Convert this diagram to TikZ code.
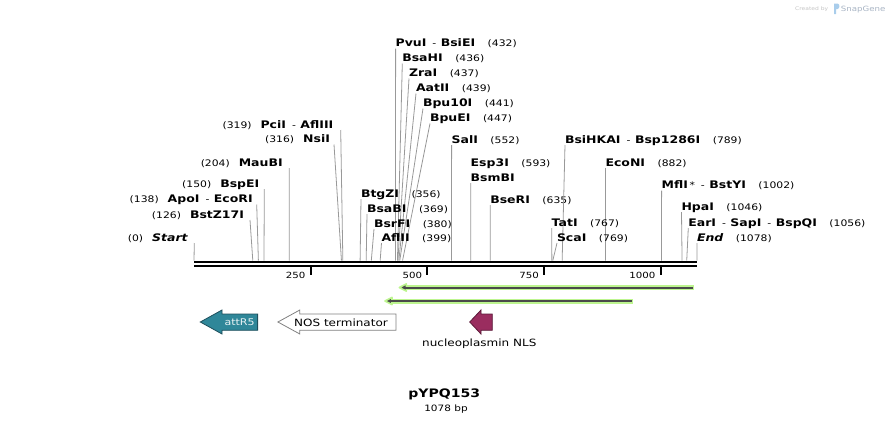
\documentclass[tikz,border=0pt]{standalone}
\usepackage{fontspec}
\setmainfont{DejaVu Sans}[FakeStretch=1.2]
\definecolor{sitegray}{HTML}{999999}
\definecolor{tealf}{HTML}{2F8799}
\definecolor{teald}{HTML}{1E4F5C}
\definecolor{nlsf}{HTML}{9A2D5F}
\definecolor{nlsd}{HTML}{5A1A38}
\definecolor{primg}{HTML}{BDF58F}
\definecolor{primd}{HTML}{4A4A4A}
\definecolor{wmgray}{HTML}{C4C4C4}
\definecolor{wmblue}{HTML}{A8B4C4}
\definecolor{wmlogo}{HTML}{A9CDEB}
\newcommand\enz[1]{{\fontsize{10.4}{12}\selectfont\bfseries #1}}
\newcommand\enzi[1]{{\fontsize{10.4}{12}\selectfont\bfseries\itshape #1}}
\newcommand\bpn[1]{{\fontsize{9}{11}\selectfont #1}}
\newcommand\hsep{\hspace{6pt}{\fontsize{9}{11}\selectfont -}\hspace{4.5pt}}
\newcommand\rgap{\hspace{12.5pt}}
\newcommand\lgap{\hspace{9pt}}
% right-side label: id, x, baseline, bp, text
\newcommand\rsite[5]{%
  \node[rlab] (r#1) at (#2,#3) {#5};
  \coordinate (rs#1) at ({194+0.4666*#4},260.5);
  \draw[site] (r#1.base west) ++(0,2) -- (rs#1);}
% left-side label: id, text right x, baseline, line x, bp, text
\newcommand\lsite[6]{%
  \node[llab] (l#1) at (#2,#3) {#6};
  \coordinate (lt#1) at (#4,{#3+2});
  \coordinate (ls#1) at ({194+0.4666*#5},260.5);
  \draw[site] (lt#1) -- (ls#1);}
\begin{document}
\begin{tikzpicture}[x={(1pt,0)},y={(0,-1pt)},
  rlab/.style={anchor=base west,inner sep=0,outer sep=0},
  llab/.style={anchor=base east,inner sep=0,outer sep=0},
  site/.style={draw=sitegray,line width=0.8pt},
  bb/.style={line width=2.4pt},
  tick/.style={line width=1.8pt},
  ticklab/.style={anchor=base east,inner sep=0,font=\fontsize{8.5}{10}\selectfont},
  prg/.style={draw=primg,line width=5pt},
  prd/.style={draw=primd,line width=2pt},
  feat/.style={line width=0.8pt,line join=miter}]
\useasboundingbox (0,0) rectangle (892,424);
% watermark
\node[anchor=base west,inner sep=0,text=wmgray,font=\fontsize{5}{6}\selectfont] (wm1) at (795,10.5) {Created by};
\fill[wmlogo] (834,3.5) -- (837.5,3.5) .. controls (840,3.5) and (840,9) .. (837.5,9) -- (836,9) -- (836,14) -- (834,14) -- cycle;
\node[anchor=base west,inner sep=0,text=wmblue,font=\fontsize{7.2}{8}\selectfont] (wm2) at (840.7,11) {SnapGene};
% backbone
\draw[bb] (194,261.7) -- (697,261.7);
\draw[bb,line width=2.2pt] (194,266) -- (697,266);
% ticks
\foreach \v in {250,500,750,1000}{
  \draw[tick] ({194+0.4666*\v},266) -- ({194+0.4666*\v},275);
  \node[ticklab] at ({194+0.4666*\v-5},278) {\v};
}
% right-side labels
\rsite{1}{395.6}{46.5}{432}{\enz{PvuI}\hsep\enz{BsiEI}\rgap\bpn{(432)}}
\rsite{2}{402.3}{61.5}{436}{\enz{BsaHI}\rgap\bpn{(436)}}
\rsite{3}{409}{76.5}{437}{\enz{ZraI}\rgap\bpn{(437)}}
\rsite{4}{416}{91.5}{439}{\enz{AatII}\rgap\bpn{(439)}}
\rsite{5}{423}{106.5}{441}{\enz{Bpu10I}\rgap\bpn{(441)}}
\rsite{6}{430}{121.5}{447}{\enz{BpuEI}\rgap\bpn{(447)}}
\rsite{7}{451.6}{143}{552}{\enz{SalI}\rgap\bpn{(552)}}
\node[rlab] (r8a) at (470.7,166) {\enz{Esp3I}\rgap\bpn{(593)}};
\rsite{8}{470.7}{181}{593}{\enz{BsmBI}}
\rsite{9}{490.3}{203}{635}{\enz{BseRI}\rgap\bpn{(635)}}
\rsite{10}{565}{143}{789}{\enz{BsiHKAI}\hsep\enz{Bsp1286I}\rgap\bpn{(789)}}
\rsite{11}{605.5}{166}{882}{\enz{EcoNI}\rgap\bpn{(882)}}
\rsite{12}{661.6}{188.5}{1002}{\enz{MflI}\,\bpn{*}\hsep\enz{BstYI}\rgap\bpn{(1002)}}
\rsite{13}{681.5}{210}{1046}{\enz{HpaI}\rgap\bpn{(1046)}}
\rsite{14}{688.3}{226}{1056}{\enz{EarI}\hsep\enz{SapI}\hsep\enz{BspQI}\rgap\bpn{(1056)}}
\rsite{15}{697}{241}{1078}{\enzi{End}\rgap\bpn{(1078)}}
\rsite{16}{551.7}{226}{767}{\enz{TatI}\rgap\bpn{(767)}}
\rsite{17}{557}{241}{769}{\enz{ScaI}\rgap\bpn{(769)}}
\rsite{18}{361}{197}{356}{\enz{BtgZI}\rgap\bpn{(356)}}
\rsite{19}{367}{212}{369}{\enz{BsaBI}\rgap\bpn{(369)}}
\rsite{20}{374}{227}{380}{\enz{BsrFI}\rgap\bpn{(380)}}
\rsite{21}{381.5}{241}{399}{\enz{AflII}\rgap\bpn{(399)}}
% left-side labels
\lsite{1}{333.3}{128}{340.7}{319}{\bpn{(319)}\lgap\enz{PciI}\hsep\enz{AflIII}}
\lsite{2}{330}{142.5}{334}{316}{\bpn{(316)}\lgap\enz{NsiI}}
\lsite{3}{282.7}{166}{289.2}{204}{\bpn{(204)}\lgap\enz{MauBI}}
\lsite{4}{259.3}{187}{264.3}{150}{\bpn{(150)}\lgap\enz{BspEI}}
\lsite{5}{252.7}{202.5}{256.7}{138}{\bpn{(138)}\lgap\enz{ApoI}\hsep\enz{EcoRI}}
\lsite{6}{244}{218}{250}{126}{\bpn{(126)}\lgap\enz{BstZ17I}}
\lsite{7}{187.7}{241}{194.3}{0}{\bpn{(0)}\lgap\enzi{Start}}
% primers
\coordinate (p1tip) at (399.3,287.5);
\coordinate (p1tail) at (694,287.5);
\coordinate (p2tip) at (385,301);
\coordinate (p2tail) at (633.3,301);
\foreach \t/\e in {p1tip/p1tail,p2tip/p2tail}{
  \draw[prg] ([xshift=4pt]\t) -- (\e);
  \filldraw[fill=primd,draw=primg,line width=1.6pt,line join=round] (\t) -- ++(7,-3.6) -- ++(0,7.2) -- cycle;
  \draw[prd] ([xshift=5pt]\t) -- ([xshift=-1pt]\e);
}
% features
\filldraw[feat,fill=tealf,draw=teald] (200.3,322) -- (222,310) -- (222,314) -- (257.6,314) -- (257.6,330.3) -- (222,330.3) -- (222,334) -- cycle;
\node[text=white!90!tealf,font=\fontsize{9.2}{10}\selectfont,inner sep=0] (attr) at (239.6,322) {attR5};
\filldraw[feat,fill=white,draw=gray] (277.9,322) -- (299.8,310) -- (299.8,314) -- (396,314) -- (396,330.3) -- (299.8,330.3) -- (299.8,334) -- cycle;
\node[anchor=base,font=\fontsize{10}{12}\selectfont,inner sep=0] (nos) at (341,326) {NOS terminator};
\filldraw[feat,fill=nlsf,draw=nlsd] (469.7,322) -- (481,310) -- (481,314) -- (492.3,314) -- (492.3,330.3) -- (481,330.3) -- (481,334) -- cycle;
\node[anchor=base,font=\fontsize{10}{12}\selectfont,inner sep=0] (nls) at (479.3,346) {nucleoplasmin NLS};
% title
\node[anchor=base,font=\fontsize{11.7}{14}\selectfont\bfseries,inner sep=0] (title) at (444.2,397.3) {pYPQ153};
\node[anchor=base,font=\fontsize{8.75}{10}\selectfont,inner sep=0] (len) at (446,411.5) {1078 bp};
\end{tikzpicture}
\end{document}
